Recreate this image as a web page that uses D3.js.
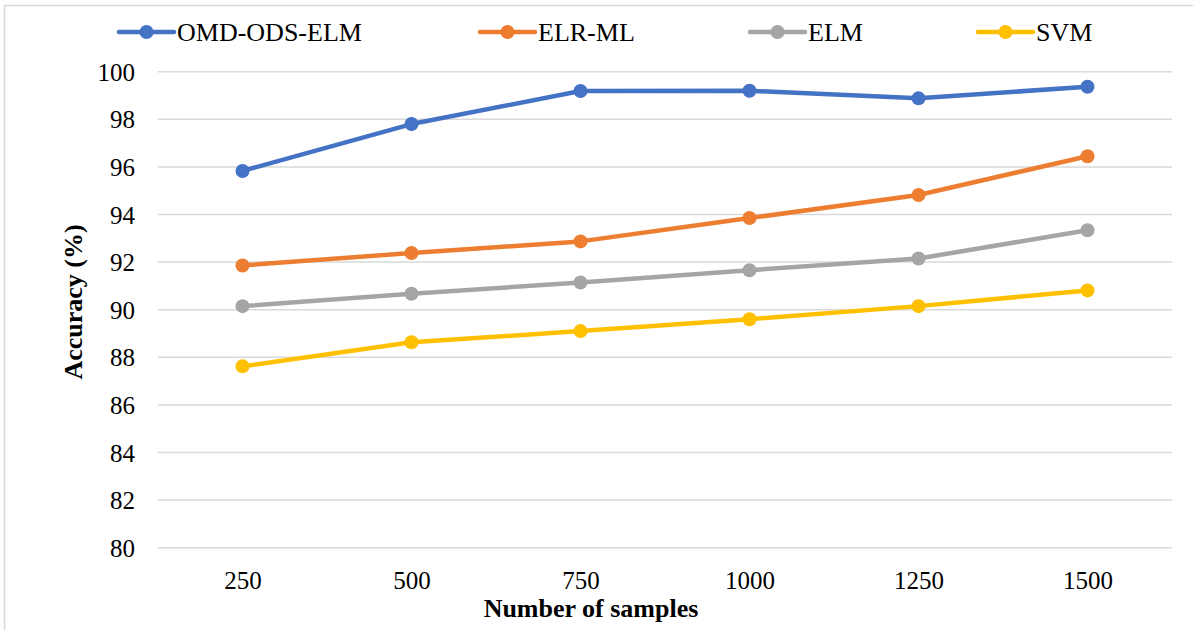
<!DOCTYPE html>
<html>
<head>
<meta charset="utf-8">
<script src="https://cdn.jsdelivr.net/npm/d3@7/dist/d3.min.js"></script>
<style>
  html, body { margin: 0; padding: 0; background: #fff; }
  svg { display: block; }
</style>
</head>
<body>
<svg id="chart" width="1193" height="630"></svg>
<script>
// Sample sizes on the horizontal axis
const categories = ["250", "500", "750", "1000", "1250", "1500"];

// Accuracy (%) for each method
const seriesNames = ["OMD-ODS-ELM", "ELR-ML", "ELM", "SVM"];
const omdOdsElm = [95.83, 97.80, 99.19, 99.20, 98.88, 99.37];
const elrMl     = [91.86, 92.38, 92.87, 93.85, 94.82, 96.45];
const elm       = [90.15, 90.67, 91.14, 91.66, 92.15, 93.34];
const svm       = [87.62, 88.63, 89.10, 89.60, 90.15, 90.81];

const yTicks = [80, 82, 84, 86, 88, 90, 92, 94, 96, 98, 100];

const colors = ["#4472C4", "#ED7D31", "#A5A5A5", "#FFC000"];
const series = [omdOdsElm, elrMl, elm, svm].map((values, i) => ({
  name: seriesNames[i], values, color: colors[i]
}));

const FONT = "'Liberation Serif', 'Times New Roman', Times, Tinos, 'Nimbus Roman', " +
             "'Nimbus Roman No9 L', FreeSerif, 'Noto Serif', 'DejaVu Serif', " +
             "'Noto Serif CJK SC', 'Noto Serif CJK JP', serif";

const svg = d3.select("#chart");
const plot = { left: 158, right: 1172, top: 71.7, bottom: 547.7 };

// outer chart frame
svg.append("rect")
  .attr("x", 4.5).attr("y", 5.5)
  .attr("width", 1200).attr("height", 640)
  .attr("fill", "none").attr("stroke", "#D9D9D9").attr("stroke-width", 1.5);

const x = d3.scalePoint().domain(categories).range([plot.left, plot.right]).padding(0.5);
const y = d3.scaleLinear().domain([80, 100]).range([plot.bottom, plot.top]);

// horizontal gridlines
svg.append("g").selectAll("line").data(yTicks).join("line")
  .attr("x1", plot.left).attr("x2", plot.right)
  .attr("y1", d => y(d)).attr("y2", d => y(d))
  .attr("stroke", "#D9D9D9").attr("stroke-width", 1.5);

// y axis labels
const yAxis = d3.axisLeft(y).tickValues(yTicks).tickSize(0).tickPadding(0);
const gy = svg.append("g").attr("transform", `translate(135,0)`).call(yAxis)
  .attr("font-family", FONT).attr("font-size", 25);
gy.select(".domain").remove();
gy.selectAll("text").attr("fill", "#000").attr("dy", "0.34em");

// x axis labels
const xAxis = d3.axisBottom(x).tickSize(0).tickPadding(0);
const gx = svg.append("g").attr("transform", `translate(0,580)`).call(xAxis)
  .attr("font-family", FONT).attr("font-size", 25);
gx.select(".domain").remove();
gx.selectAll("text").attr("fill", "#000").attr("dy", "0.34em");

// axis titles
svg.append("text")
  .attr("x", 591).attr("y", 608).attr("dy", "0.34em")
  .attr("text-anchor", "middle")
  .attr("font-family", FONT).attr("font-size", 26).attr("font-weight", "bold")
  .text("Number of samples");

svg.append("text")
  .attr("transform", "translate(73,302) rotate(-90)")
  .attr("dy", "0.34em")
  .attr("text-anchor", "middle")
  .attr("font-family", FONT).attr("font-size", 26).attr("font-weight", "bold")
  .text("Accuracy (%)");

// series lines and markers
const line = d3.line()
  .x((d, i) => x(categories[i]))
  .y(d => y(d));

const gSeries = svg.append("g").selectAll("g").data(series).join("g");
gSeries.append("path")
  .attr("d", d => line(d.values))
  .attr("fill", "none")
  .attr("stroke", d => d.color)
  .attr("stroke-width", 4.5)
  .attr("stroke-linejoin", "round");
gSeries.each(function (s) {
  d3.select(this).selectAll("circle").data(s.values).join("circle")
    .attr("cx", (d, i) => x(categories[i]))
    .attr("cy", d => y(d))
    .attr("r", 7)
    .attr("fill", s.color);
});

// legend
const legendX = [119, 480, 750, 978];
const legendY = 32;
const lg = svg.append("g").selectAll("g").data(series).join("g")
  .attr("transform", (d, i) => `translate(${legendX[i]},${legendY})`);
lg.append("line")
  .attr("x1", 0).attr("x2", 55).attr("y1", 0).attr("y2", 0)
  .attr("stroke", d => d.color).attr("stroke-width", 4.5)
  .attr("stroke-linecap", "round");
lg.append("circle")
  .attr("cx", 27.5).attr("cy", 0).attr("r", 7)
  .attr("fill", d => d.color);
lg.append("text")
  .attr("x", 58).attr("y", 0).attr("dy", "0.34em")
  .attr("font-family", FONT).attr("font-size", 26)
  .text(d => d.name);
</script>
</body>
</html>
